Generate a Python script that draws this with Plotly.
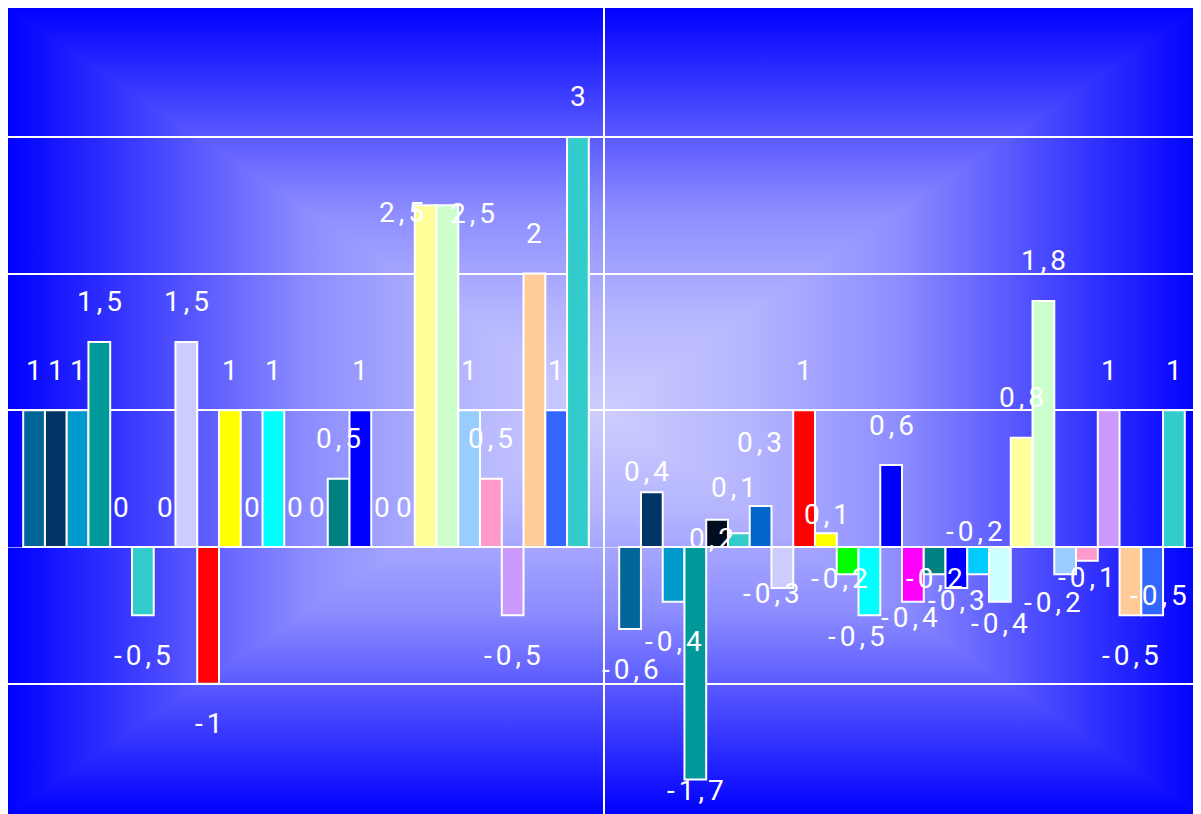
import base64
import plotly.graph_objects as go

# ---------------- data ----------------
categories = ["Group 1", "Group 2"]
series_names = ["Series %d" % (i + 1) for i in range(26)]
values_group1 = [1, 1, 1, 1.5, 0, -0.5, 0, 1.5, -1, 1, 0, 1, 0, 0, 0.5, 1,
                 0, 0, 2.5, 2.5, 1, 0.5, -0.5, 2, 1, 3]
values_group2 = [-0.6, 0.4, -0.4, -1.7, 0.2, 0.1, 0.3, -0.3, 1, 0.1, -0.2, -0.5,
                 0.6, -0.4, -0.2, -0.3, -0.2, -0.4, 0.8, 1.8, -0.2, -0.1, 1,
                 -0.5, -0.5, 1]
series_colors = ["#006699", "#003366", "#0099CC", "#009999", "#000C1F", "#33CCCC",
                 "#0066CC", "#CCCCFF", "#FF0000", "#FFFF00", "#00FF00", "#00FFFF",
                 "#0000FF", "#FF00FF", "#008080", "#0000FF", "#00CCFF", "#CCFFFF",
                 "#FFFF99", "#CCFFCC", "#99CCFF", "#FF99CC", "#CC99FF", "#FFCC99",
                 "#3366FF", "#33CCCC"]

# label nudges (pixels) used where the original chart moved overlapping labels
# key: (category index, series index) -> (dx, dy_down)
label_nudge = {
    (0, 18): (-24, 47), (0, 19): (25, 48),
    (1, 1): (-5, 19), (1, 3): (0, -29), (1, 4): (-6, 59), (1, 5): (-5, -6),
    (1, 6): (-1, -24), (1, 7): (-11, -35), (1, 9): (1, 21), (1, 10): (-8, -36),
    (1, 11): (-13, -19), (1, 13): (-3, -24), (1, 14): (0, -36), (1, 15): (0, -28),
    (1, 16): (-4, -83), (1, 17): (0, -18), (1, 20): (-13, -12), (1, 21): (0, -23),
    (1, 24): (6, -60),
}

BARGAP = 0.051
LABEL_OFFSET = 40

fig = go.Figure()
groups = [values_group1, values_group2]
n_series = len(series_names)
for j in range(n_series):
    fig.add_trace(go.Bar(
        x=categories,
        y=[values_group1[j], values_group2[j]],
        name=series_names[j],
        marker=dict(color=series_colors[j], line=dict(color="white", width=2)),
        showlegend=False,
    ))


def fmt(v):
    return ("%g" % v).replace(".", ",")


annotations = []
slot = (1 - BARGAP) / n_series
for ci, vals in enumerate(groups):
    for j, v in enumerate(vals):
        if v is None:
            continue
        xpos = ci - (1 - BARGAP) / 2 + (j + 0.5) * slot
        dx, dy = label_nudge.get((ci, j), (0, 0))
        base = LABEL_OFFSET if v >= 0 else -LABEL_OFFSET
        annotations.append(dict(
            x=xpos, y=v, xref="x", yref="y",
            text='<span style="letter-spacing:4px">%s</span>' % fmt(v),
            showarrow=False, xanchor="center", yanchor="middle",
            xshift=dx + 2, yshift=base - dy,
            font=dict(family="Roboto", size=28, color="white"),
        ))

# rectangular "from centre" gradient background for the plot area
stops = '<stop offset="0" stop-color="rgb(0,0,255)"/>' \
        '<stop offset="0.5" stop-color="rgb(140,140,255)"/>' \
        '<stop offset="0.75" stop-color="rgb(180,180,255)"/>' \
        '<stop offset="1" stop-color="rgb(205,205,255)"/>'
svg = (
    '<svg xmlns="http://www.w3.org/2000/svg" width="1000" height="1000" '
    'viewBox="0 0 1000 1000" preserveAspectRatio="none"><defs>'
    '<linearGradient id="t" x1="0" y1="0" x2="0" y2="1">' + stops + '</linearGradient>'
    '<linearGradient id="b" x1="0" y1="1" x2="0" y2="0">' + stops + '</linearGradient>'
    '<linearGradient id="l" x1="0" y1="0" x2="1" y2="0">' + stops + '</linearGradient>'
    '<linearGradient id="r" x1="1" y1="0" x2="0" y2="0">' + stops + '</linearGradient>'
    '</defs>'
    '<g shape-rendering="crispEdges">'
    '<polygon points="0,0 1000,0 500,500" fill="url(#t)"/>'
    '<polygon points="0,1000 1000,1000 500,500" fill="url(#b)"/>'
    '<polygon points="0,0 0,1000 500,500" fill="url(#l)"/>'
    '<polygon points="1000,0 1000,1000 500,500" fill="url(#r)"/>'
    '</g></svg>'
)
uri = "data:image/svg+xml;base64," + base64.b64encode(svg.encode()).decode()

fig.update_layout(
    width=1192, height=806,
    margin=dict(l=0, r=0, t=0, b=0, pad=0),
    paper_bgcolor="white",
    plot_bgcolor="rgba(0,0,0,0)",
    barmode="group", bargap=BARGAP, bargroupgap=0,
    annotations=annotations,
    images=[dict(source=uri, xref="paper", yref="paper", x=0, y=1,
                 sizex=1, sizey=1, sizing="stretch", layer="below",
                 xanchor="left", yanchor="top")],
    xaxis=dict(showgrid=True, gridcolor="white", gridwidth=2,
               tickson="boundaries", showticklabels=False, ticks="",
               zeroline=False, showline=False, fixedrange=True),
    yaxis=dict(range=[-1.953, 3.943], dtick=1, showgrid=True, gridcolor="white",
               gridwidth=2, zeroline=True, zerolinecolor="rgba(255,255,255,0.6)",
               zerolinewidth=1, showticklabels=False, ticks="", showline=False,
               fixedrange=True),
)

fig.write_html("out.html")
